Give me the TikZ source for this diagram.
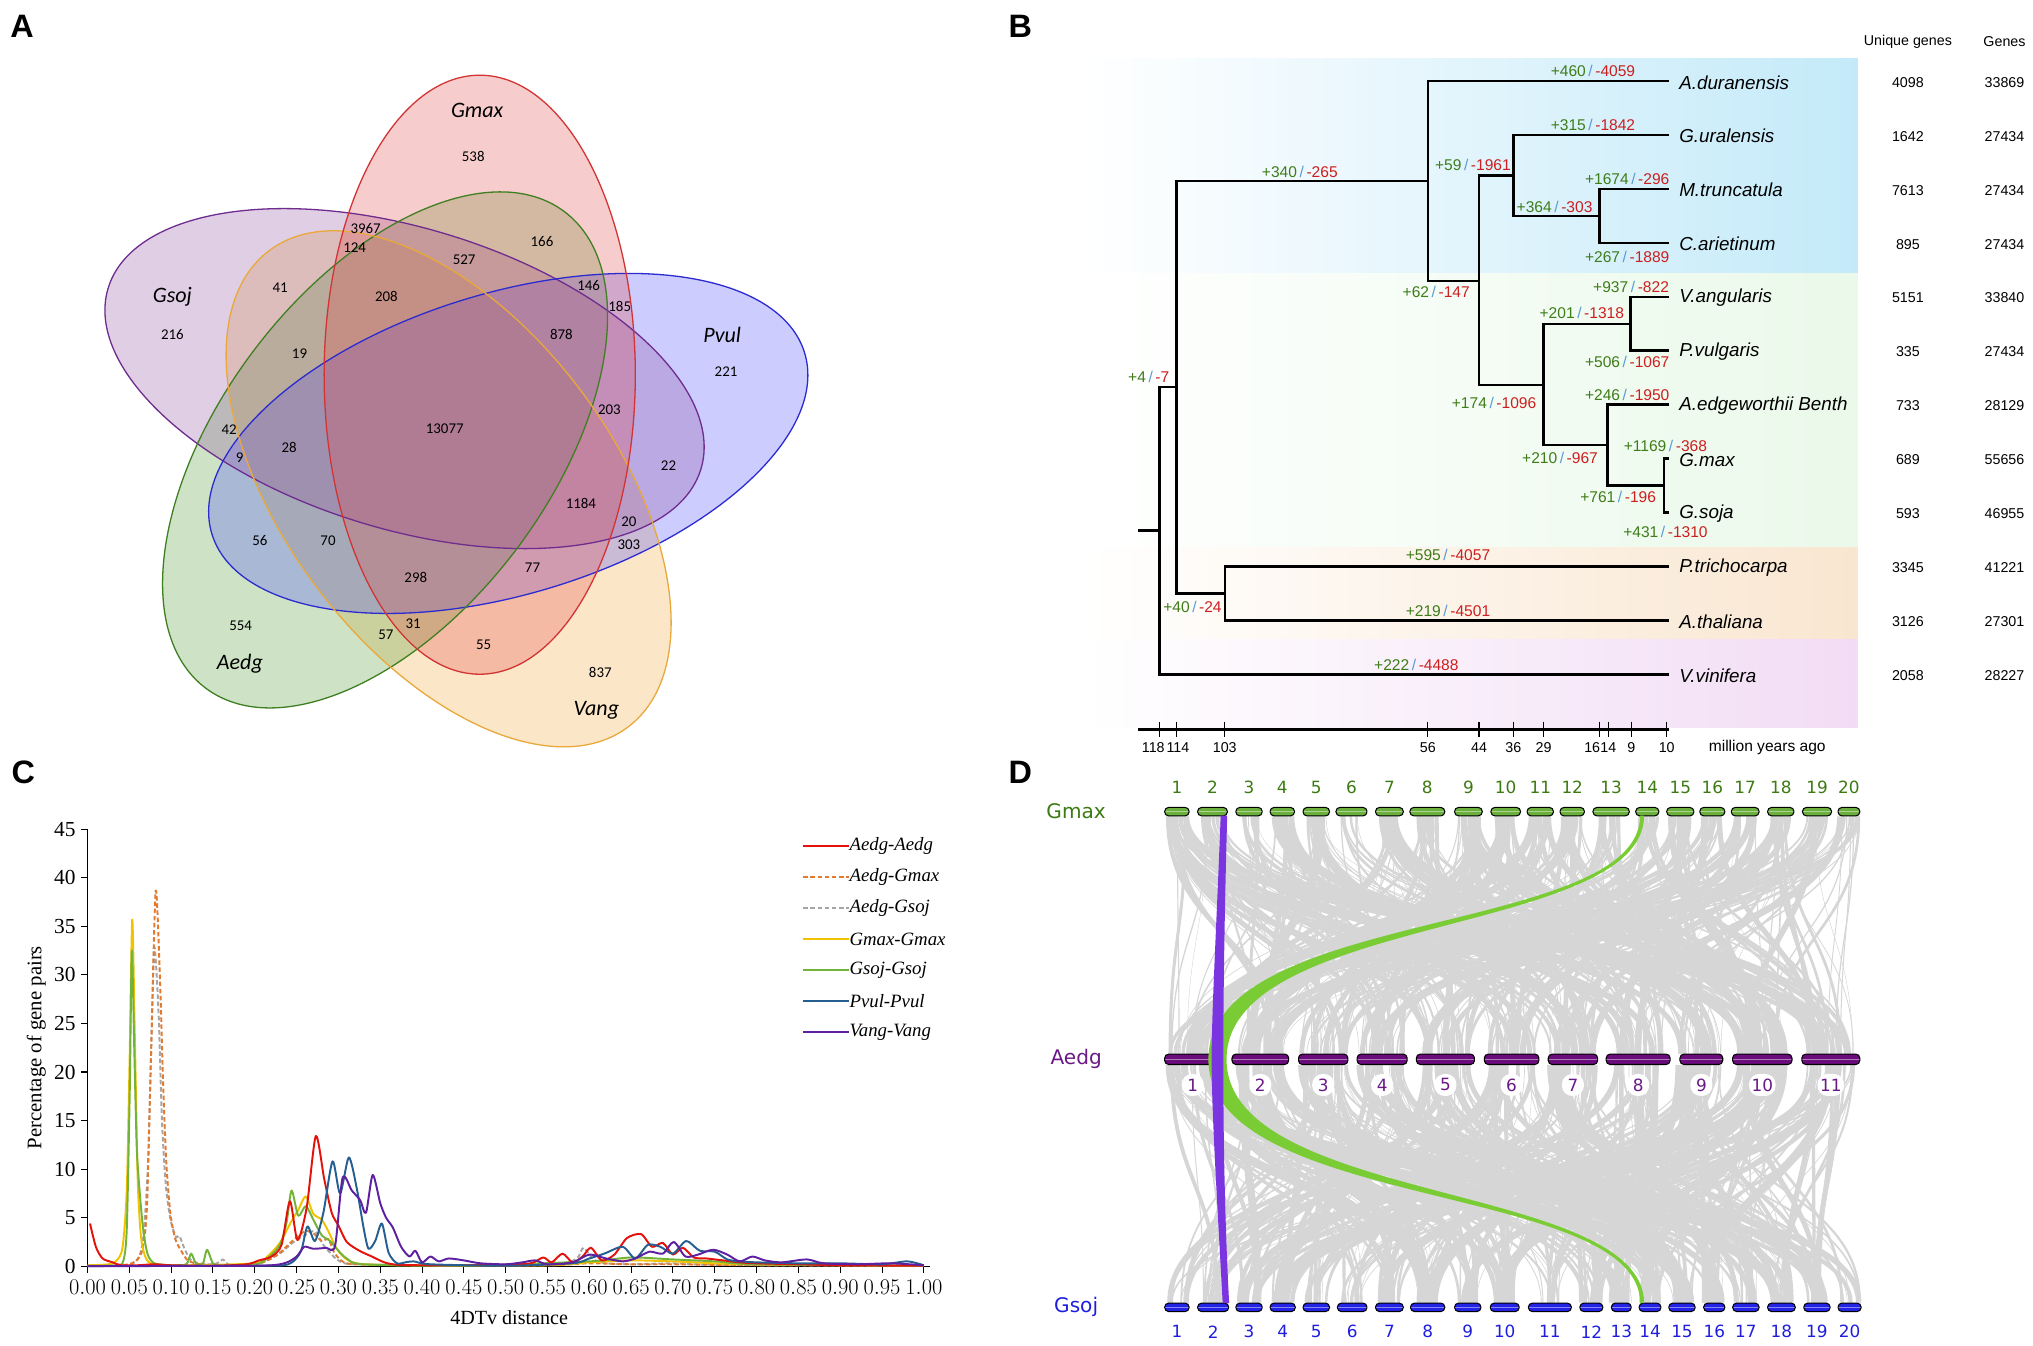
\documentclass[tikz,border=0pt]{standalone}
\usepackage{fontspec}
\setmainfont{Liberation Serif}
\newfontfamily\vennfont{Carlito}
\newfontfamily\treefont{Liberation Sans}
\newfontfamily\synfont{DejaVu Sans}
\usetikzlibrary{positioning,backgrounds}

% Venn colours
\definecolor{gmaxred}{HTML}{D23434}
\definecolor{aedggreen}{HTML}{3F7F22}
\definecolor{gsojpurple}{HTML}{6E2C8E}
\definecolor{pvulblue}{HTML}{2B2BD0}
\definecolor{vangorange}{HTML}{E9A83A}
\definecolor{gmaxfill}{HTML}{E04848}
\definecolor{aedgfill}{HTML}{4E9A30}
\definecolor{gsojfill}{HTML}{8E4E9E}
\definecolor{pvulfill}{HTML}{4848FF}
\definecolor{vangfill}{HTML}{F2A535}
% tree colours
\definecolor{gainc}{HTML}{3E7D1A}
\definecolor{lossc}{HTML}{CC1F1F}
\definecolor{slashc}{HTML}{5B9BD5}
\definecolor{bandblue}{HTML}{C4EAF9}
\definecolor{bandgreen}{HTML}{EAF9EA}
\definecolor{bandpeach}{HTML}{F9E6D0}
\definecolor{bandpink}{HTML}{F2DCF5}
% Ks plot colours
\definecolor{kred}{HTML}{E3120B}
\definecolor{korange}{HTML}{E47A2E}
\definecolor{kgray}{HTML}{A5A5A5}
\definecolor{kyellow}{HTML}{F2C100}
\definecolor{kgreen}{HTML}{72B33A}
\definecolor{kblue}{HTML}{255E91}
\definecolor{kpurple}{HTML}{5E1FA0}
% synteny colours
\definecolor{ribbon}{HTML}{D6D6D6}
\definecolor{synviolet}{HTML}{7A35E0}
\definecolor{syngreen}{HTML}{7ACC35}
\definecolor{chrgreen}{HTML}{6BAF3C}
\definecolor{chrpurple}{HTML}{6A0C7C}
\definecolor{chrblue}{HTML}{2424E6}
\definecolor{labgreen}{HTML}{3C7A12}
\definecolor{labpurple}{HTML}{6A1A86}
\definecolor{labblue}{HTML}{1E1EDC}

\newcommand{\gl}[2]{{\color{gainc}#1}{\color{slashc}\,/\,}{\color{lossc}#2}}

\tikzset{
  panel/.style={font=\treefont\bfseries\fontsize{25}{25}\selectfont, inner sep=0pt},
  vennline/.style={line width=1pt},
  vennfill/.style={fill opacity=0.28},
  vnum/.style={font=\vennfont\fontsize{11.5}{12}\selectfont, inner sep=0pt},
  vlab/.style={font=\vennfont\itshape\fontsize{17}{18}\selectfont, inner sep=0pt},
  branch/.style={line width=1.9pt},
  taxon/.style={font=\treefont\itshape\fontsize{14.5}{15}\selectfont, inner sep=0pt},
  gain/.style={font=\treefont\fontsize{12}{13}\selectfont, inner sep=0pt},
  genecount/.style={font=\treefont\fontsize{11}{12}\selectfont, inner sep=0pt},
  kcurve/.style={line width=1.5pt, line join=round},
  kdash/.style={kcurve, dash pattern=on 3.5pt off 2pt},
  ktick/.style={font=\fontsize{16.5}{17}\selectfont, inner sep=0pt},
  klegend/.style={font=\itshape\fontsize{14.5}{15}\selectfont, inner sep=0pt, anchor=west},
  chrom/.style={draw=black, line width=0.8pt, rounded corners=3pt, inner sep=0pt,
    path picture={\draw[white, opacity=0.45, line width=1.2pt]
      (path picture bounding box.west) -- (path picture bounding box.east);}},
  chrnum/.style={font=\synfont\fontsize{13}{14}\selectfont, inner sep=1pt},
  synlab/.style={font=\synfont\fontsize{15.5}{16}\selectfont, inner sep=0pt},
  ribbonline/.style={ribbon}
}

\begin{document}
\begin{tikzpicture}[x=1pt, y=-1pt]
    \useasboundingbox (0,0) rectangle (1568,1038.1);

    % Panel letters
    \node[panel] (labA) at (17,20) {A};
    \node[panel] (labB) at (787,20) {B};
    \node[panel] (labC) at (18,596) {C};
    \node[panel] (labD) at (787,596) {D};

    % ---------------- A: five-set Venn ----------------
    \fill[vennfill, vangfill, rotate around={-53:(346,377)}] (346,377) ellipse [x radius=230pt, y radius=127pt];
    \fill[vennfill, aedgfill, rotate around={53:(297,347)}] (297,347) ellipse [x radius=230pt, y radius=127pt];
    \fill[vennfill, pvulfill, rotate around={17:(392,342)}] (392,342) ellipse [x radius=239pt, y radius=116pt];
    \fill[vennfill, gsojfill, rotate around={-17:(312,292)}] (312,292) ellipse [x radius=239pt, y radius=116pt];
    \fill[vennfill, gmaxfill] (370,289) ellipse [x radius=120pt, y radius=231pt];
    \draw[vennline, gsojpurple, rotate around={-17:(312,292)}] (312,292) ellipse [x radius=239pt, y radius=116pt];
    \draw[vennline, pvulblue, rotate around={17:(392,342)}] (392,342) ellipse [x radius=239pt, y radius=116pt];
    \draw[vennline, aedggreen, rotate around={53:(297,347)}] (297,347) ellipse [x radius=230pt, y radius=127pt];
    \draw[vennline, vangorange, rotate around={-53:(346,377)}] (346,377) ellipse [x radius=230pt, y radius=127pt];
    \draw[vennline, gmaxred] (370,289) ellipse [x radius=120pt, y radius=231pt];

    \node[vlab] (vGmax) at (368,85) {Gmax};
    \node[vlab] (vGsoj) at (133,229) {Gsoj};
    \node[vlab] (vPvul) at (557,258) {Pvul};
    \node[vlab] (vAedg) at (185,512) {Aedg};
    \node[vlab] (vVang) at (460,548) {Vang};

    \foreach \vx/\vy/\vn in {365/121/538, 282/176/3967, 273.5/191/124, 418/186/166,
        358/200.5/527, 216/222/41, 298/229/208, 454/220/146, 478/236/185,
        133/258/216, 433/258/878, 231/272.5/19, 560/287/221, 470/316/203,
        176.7/331/42, 343/331/13077, 223/345/28, 184.8/353/9, 515.6/359/22,
        448/388/1184, 485/402/20, 200.5/417/56, 253/417/70, 485/420/303,
        410.7/438/77, 320.7/445.6/298, 318.7/480.8/31, 185.6/482.8/554,
        297.7/489.8/57, 373/497/55, 463/518.6/837}
      \node[vnum] (v\vn) at (\vx,\vy) {\vn};

    % ---------------- B: species tree ----------------
    \shade[left color=white, right color=bandblue] (837,45) rectangle (1433,211.3);
    \shade[left color=white, right color=bandgreen] (837,211.3) rectangle (1433,422);
    \shade[left color=white, right color=bandpeach] (837,422) rectangle (1433,493.6);
    \shade[left color=white, right color=bandpink] (837,493.6) rectangle (1433,561);

    \node[genecount] (hUniq) at (1471.5,32) {Unique genes};
    \node[genecount] (hGenes) at (1546,32) {Genes};

    \foreach \t/\name/\uniq/\tot [count=\k from 0] in {
        Adur/A.duranensis/4098/33869, Gura/G.uralensis/1642/27434,
        Mtru/M.truncatula/7613/27434, Cari/C.arietinum/895/27434,
        Vang/V.angularis/5151/33840, Pvul/P.vulgaris/335/27434,
        Aedg/A.edgeworthii Benth/733/28129, Gmax/G.max/689/55656,
        Gsoj/G.soja/593/46955, Ptri/P.trichocarpa/3345/41221,
        Atha/A.thaliana/3126/27301, Vvin/V.vinifera/2058/28227}{
      \coordinate (t\t) at (1287,{62.5+41.6*\k});
      \node[taxon, right=8pt of t\t, yshift=-1pt] (t\t-name) {\name};
      \node[genecount] (t\t-uniq) at (1471.5,{63.5+41.6*\k}) {\uniq};
      \node[genecount] (t\t-genes) at (1546,{63.5+41.6*\k}) {\tot};
    }

    % internal nodes
    \coordinate (r0)   at (878,409.3);
    \coordinate (n118) at (894.3,409.3);
    \coordinate (n114) at (907.5,298.6);
    \coordinate (n103) at (944.6,457.7);
    \coordinate (n56)  at (1101.2,139.4);
    \coordinate (n44)  at (1140.7,216.6);
    \coordinate (n36)  at (1167.2,135.5);
    \coordinate (n29)  at (1190.5,296.9);
    \coordinate (n16)  at (1233.7,166.5);
    \coordinate (n14)  at (1239.8,343.3);
    \coordinate (n9)   at (1257.5,249.7);
    \coordinate (n10)  at (1283.5,374.5);

    % branches
    \draw[branch] (r0) -- (n118);
    \draw[branch] (n118) |- (n114);
    \draw[branch] (n118) |- (tVvin);
    \draw[branch] (n114) |- (n56);
    \draw[branch] (n114) |- (n103);
    \draw[branch] (n103) |- (tPtri);
    \draw[branch] (n103) |- (tAtha);
    \draw[branch] (n56) |- (tAdur);
    \draw[branch] (n56) |- (n44);
    \draw[branch] (n44) |- (n36);
    \draw[branch] (n44) |- (n29);
    \draw[branch] (n36) |- (tGura);
    \draw[branch] (n36) |- (n16);
    \draw[branch] (n16) |- (tMtru);
    \draw[branch] (n16) |- (tCari);
    \draw[branch] (n29) |- (n9);
    \draw[branch] (n29) |- (n14);
    \draw[branch] (n9) |- (tVang);
    \draw[branch] (n9) |- (tPvul);
    \draw[branch] (n14) |- (tAedg);
    \draw[branch] (n14) |- (n10);
    \draw[branch] (n10) |- (tGmax);
    \draw[branch] (n10) |- (tGsoj);

    % gains / losses
    \node[gain] (gAdur) at (1228.6,54.8) {\gl{+460}{-4059}};
    \node[gain] (gGura) at (1228.6,96.4) {\gl{+315}{-1842}};
    \node[gain] (g56)   at (1002.5,132.4) {\gl{+340}{-265}};
    \node[gain] (g44)   at (1107.7,224.9) {\gl{+62}{-147}};
    \node[gain] (g36)   at (1136,127.3) {\gl{+59}{-1961}};
    \node[gain] (g16)   at (1199,159.4) {\gl{+364}{-303}};
    \node[gain] (gMtru) at (1255,138.3) {\gl{+1674}{-296}};
    \node[gain] (gCari) at (1255,198) {\gl{+267}{-1889}};
    \node[gain] (g29)   at (1152.3,311) {\gl{+174}{-1096}};
    \node[gain] (g9)    at (1220,241.6) {\gl{+201}{-1318}};
    \node[gain] (gVang) at (1258,221) {\gl{+937}{-822}};
    \node[gain] (gPvul) at (1255,279.4) {\gl{+506}{-1067}};
    \node[gain] (g14)   at (1203.2,353.5) {\gl{+210}{-967}};
    \node[gain] (gAedg) at (1255,304.6) {\gl{+246}{-1950}};
    \node[gain] (g10)   at (1248,383.6) {\gl{+761}{-196}};
    \node[gain] (gGmax) at (1284.5,343.7) {\gl{+1169}{-368}};
    \node[gain] (gGsoj) at (1284.5,410) {\gl{+431}{-1310}};
    \node[gain] (g114)  at (886,290.5) {\gl{+4}{-7}};
    \node[gain] (g103)  at (919.7,467.9) {\gl{+40}{-24}};
    \node[gain] (gPtri) at (1116.8,428) {\gl{+595}{-4057}};
    \node[gain] (gAtha) at (1116.8,471) {\gl{+219}{-4501}};
    \node[gain] (gVvin) at (1092.4,512.9) {\gl{+222}{-4488}};

    % time axis
    \draw[line width=2.2pt] (878,562.5) -- (1287,562.5);
    \foreach \xt/\lx/\lab in {894.3/889.5/118, 907.5/908.5/114, 944.6/944.6/103,
        1101.2/1101.2/56, 1140.7/1140.7/44, 1167.2/1167.2/36, 1190.5/1190.5/29,
        1233.7/1228/16, 1240.3/1240.5/14, 1258.1/1258.1/9, 1285.5/1285.5/10}{
      \draw[line width=0.8pt] (\xt,556.5) -- (\xt,568.5);
      \node[genecount] (ax\lab) at (\lx,576.4) {\lab};
    }
    \node[genecount, font=\treefont\fontsize{12}{12}\selectfont] (axunit) at (1363,576.4) {million years ago};

    % ---------------- C: 4DTv distribution ----------------
    \begin{scope}[shift={(67.5,976.6)}, x=645pt, y=7.49pt]
      \draw[line width=0.8pt] (0,0) -- (0,45);
      \draw[line width=0.8pt] (0,0) -- (1.008,0);
      \foreach \v in {0,5,...,45}{
        \draw[line width=0.8pt] (0,\v) -- ++(-5pt,0);
        \node[ktick, anchor=east, xshift=-9pt] (yt\v) at (0,\v) {\v};
      }
      \foreach \i in {0,...,20}{
        \pgfmathsetmacro\xv{\i*0.05}
        \draw[line width=0.8pt] (\xv,0) -- ++(0,-5pt);
        \node[ktick, yshift=-16.5pt] (xt\i) at (\xv,0) {\pgfmathprintnumber[fixed,fixed zerofill,precision=2]{\xv}};
      }
      % curves
      \draw[kdash, kgray] plot[smooth, tension=0.45] coordinates {(0.0,0.05) (0.045,0.1) (0.058,0.5) (0.066,2.5) (0.072,10) (0.077,25) (0.08,32.9) (0.085,26) (0.089,15) (0.094,8) (0.1,4.5) (0.106,3.0) (0.11,3.1) (0.116,1.8) (0.124,0.6) (0.14,0.2) (0.155,0.3) (0.162,0.7) (0.168,0.2) (0.19,0.1) (0.21,0.4) (0.23,1.3) (0.245,2.4) (0.26,3.2) (0.272,3.6) (0.282,2.2) (0.29,1.4) (0.30,0.6) (0.32,0.2) (0.45,0.1) (0.56,0.2) (0.585,0.8) (0.593,1.9) (0.605,0.7) (0.62,0.3) (0.65,0.2) (0.7,0.3) (0.75,0.15) (1.0,0.05)};
      \draw[kdash, korange] plot[smooth, tension=0.45] coordinates {(0.0,0.05) (0.04,0.1) (0.055,0.4) (0.065,1.5) (0.071,6) (0.076,22) (0.0815,38.6) (0.0865,30) (0.09,20) (0.094,11) (0.099,5.5) (0.105,2.8) (0.112,1.6) (0.12,0.6) (0.135,0.2) (0.17,0.05) (0.2,0.2) (0.215,0.6) (0.23,1.4) (0.245,2.6) (0.26,3.6) (0.27,3.4) (0.28,2.6) (0.288,2.8) (0.295,1.4) (0.305,0.5) (0.32,0.2) (0.4,0.1) (0.55,0.1) (0.6,0.3) (0.65,0.2) (0.7,0.2) (0.8,0.1) (1.0,0.05)};
      \draw[kcurve, kyellow] plot[smooth, tension=0.45] coordinates {(0.0,0.1) (0.025,0.2) (0.035,0.6) (0.042,2) (0.047,8) (0.0505,22) (0.0535,35.7) (0.0565,24) (0.06,9) (0.064,3) (0.07,0.8) (0.08,0.2) (0.12,0.1) (0.2,0.3) (0.215,1.0) (0.23,2.4) (0.243,4.5) (0.252,5.8) (0.261,7.2) (0.27,5.4) (0.28,4.8) (0.288,3.6) (0.298,1.8) (0.31,0.7) (0.33,0.2) (0.4,0.1) (0.55,0.1) (0.6,0.4) (0.65,0.6) (0.7,0.5) (0.75,0.3) (0.8,0.2) (1.0,0.05)};
      \draw[kcurve, kgreen] plot[smooth, tension=0.45] coordinates {(0.0,0.05) (0.035,0.1) (0.043,0.6) (0.047,4) (0.0505,18) (0.053,32.5) (0.056,22) (0.059,12) (0.063,7) (0.067,3.5) (0.072,1.2) (0.08,0.3) (0.1,0.1) (0.118,0.2) (0.124,1.3) (0.13,0.2) (0.138,0.3) (0.143,1.7) (0.15,0.3) (0.16,0.05) (0.2,0.2) (0.215,0.8) (0.23,2.2) (0.238,4.5) (0.244,7.8) (0.252,5.2) (0.261,6.2) (0.27,4.8) (0.28,3.2) (0.29,2.6) (0.3,1.6) (0.31,0.8) (0.33,0.2) (0.45,0.05) (0.6,0.5) (0.65,0.9) (0.7,0.7) (0.75,0.5) (0.8,0.2) (1.0,0.05)};
      \draw[kcurve, kred] plot[smooth, tension=0.45] coordinates {(0.003,4.4) (0.01,2.0) (0.018,0.8) (0.03,0.4) (0.04,0.1) (0.06,0.1) (0.08,0.2) (0.1,0.1) (0.15,0.05) (0.19,0.2) (0.205,0.6) (0.22,1.0) (0.232,2.2) (0.242,6.7) (0.251,2.7) (0.262,6.0) (0.273,13.4) (0.283,9.0) (0.292,5.5) (0.30,4.2) (0.31,2.5) (0.325,1.6) (0.34,1.0) (0.355,0.4) (0.37,0.15) (0.40,0.1) (0.45,0.1) (0.5,0.15) (0.53,0.3) (0.545,0.9) (0.555,0.4) (0.568,1.3) (0.58,0.4) (0.592,1.0) (0.602,1.9) (0.615,0.6) (0.63,1.2) (0.645,2.9) (0.662,3.3) (0.675,2.0) (0.688,2.4) (0.70,1.2) (0.712,1.9) (0.725,0.9) (0.74,0.8) (0.76,0.6) (0.78,0.4) (0.80,0.3) (0.85,0.2) (0.9,0.1) (1.0,0.05)};
      \draw[kcurve, kblue] plot[smooth, tension=0.45] coordinates {(0.0,0.02) (0.2,0.05) (0.24,0.2) (0.255,1.5) (0.263,4.1) (0.272,2.6) (0.282,5.5) (0.293,10.8) (0.302,7.5) (0.3125,11.2) (0.322,8.0) (0.33,4.0) (0.336,1.8) (0.344,2.6) (0.352,4.4) (0.36,1.4) (0.37,0.3) (0.38,0.4) (0.39,0.5) (0.41,0.2) (0.5,0.05) (0.58,0.3) (0.6,0.8) (0.618,1.3) (0.64,2.0) (0.655,0.8) (0.67,2.2) (0.685,2.0) (0.70,1.3) (0.716,2.6) (0.732,1.6) (0.75,1.5) (0.765,0.7) (0.78,0.5) (0.8,0.4) (0.85,0.3) (0.9,0.3) (0.95,0.2) (0.98,0.5) (1.0,0.1)};
      \draw[kcurve, kpurple] plot[smooth, tension=0.45] coordinates {(0.0,0.02) (0.2,0.05) (0.235,0.3) (0.25,1.0) (0.259,2.0) (0.27,1.8) (0.285,1.9) (0.296,2.1) (0.305,9.1) (0.316,7.8) (0.326,6.8) (0.333,5.5) (0.341,9.4) (0.35,6.5) (0.357,5.0) (0.365,4.0) (0.375,2.0) (0.385,1.0) (0.392,1.6) (0.4,0.4) (0.41,1.0) (0.42,0.5) (0.432,0.8) (0.45,0.6) (0.47,0.3) (0.5,0.2) (0.52,0.4) (0.535,0.6) (0.55,0.2) (0.58,0.4) (0.6,1.2) (0.62,0.8) (0.64,0.5) (0.655,0.8) (0.672,1.5) (0.688,1.3) (0.701,2.5) (0.715,1.0) (0.73,1.2) (0.748,1.7) (0.765,1.2) (0.78,0.5) (0.795,1.0) (0.81,0.6) (0.83,0.4) (0.86,0.7) (0.88,0.3) (0.92,0.2) (0.96,0.3) (1.0,0.1)};
    \end{scope}
    \node[ktick, font=\fontsize{16}{16}\selectfont, rotate=90] (ylabel) at (28,808) {Percentage of gene pairs};
    \node[ktick, font=\fontsize{15.5}{16}\selectfont] (xlabel) at (392.7,1015.9) {4DTv distance};

    % legend
    \foreach \c/\s/\txt [count=\j from 0] in {kred/kcurve/Aedg-Aedg, korange/kdash/Aedg-Gmax,
        kgray/kdash/Aedg-Gsoj, kyellow/kcurve/Gmax-Gmax, kgreen/kcurve/Gsoj-Gsoj,
        kblue/kcurve/Pvul-Pvul, kpurple/kcurve/Vang-Vang}{
      \coordinate (leg\j) at (619.6,{652.6+23.9*\j});
      \node[klegend] (leg\j-txt) at (655,{652.6+23.9*\j}) {\txt};
      \draw[\s, \c, line width=2pt] (leg\j) -- (leg\j-txt.west);
    }

    % ---------------- D: synteny ----------------
    % chromosomes
    \foreach \a/\b [count=\i] in {898.3/917.1, 923.7/946.6, 953.2/973.5, 979.6/998.4,
        1005.0/1025.4, 1030.4/1054.3, 1060.9/1082.3, 1087.4/1114.3, 1121.9/1143.2,
        1149.9/1172.7, 1177.8/1198.1, 1203.2/1222.0, 1228.6/1256.6, 1261.6/1279.4,
        1285.5/1306.4, 1311.0/1330.3, 1335.3/1356.7, 1363.3/1383.6, 1390.2/1412.6,
        1417.6/1434.4}{
      \pgfmathsetmacro\w{\b-\a}
      \node[chrom, fill=chrgreen, minimum width=\w pt, minimum height=6.5pt] (g\i) at ({(\a+\b)/2},626) {};
      \node[chrnum, labgreen] (g\i-num) at ({(\a+\b)/2},607) {\i};
    }
    \foreach \a/\b [count=\i] in {898.3/941.5, 950.2/993.9, 1001.5/1039.6, 1046.7/1085.3,
        1092.4/1137.2, 1144.8/1186.9, 1194.1/1232.2, 1238.8/1288.1, 1295.7/1328.7,
        1336.3/1382.1, 1389.7/1434.4}{
      \pgfmathsetmacro\w{\b-\a}
      \node[chrom, fill=chrpurple, minimum width=\w pt, minimum height=8pt] (a\i) at ({(\a+\b)/2},817) {};
      \node[chrnum, labpurple, fill=white, rounded corners=8pt, inner sep=2pt,
            minimum width=17pt, minimum height=17pt] (a\i-num) at ({(\a+\b)/2},836.8) {\i};
    }
    \foreach \a/\b [count=\i] in {898.3/917.1, 923.7/947.6, 953.2/973.5, 979.6/999.0,
        1005.0/1025.4, 1031.5/1054.3, 1060.9/1082.3, 1087.9/1114.3, 1121.9/1142.2,
        1149.4/1171.7, 1178.8/1211.9, 1218.5/1236.2, 1242.8/1258.1, 1264.2/1281.0,
        1287.1/1307.4, 1314.0/1330.3, 1336.4/1356.7, 1363.3/1384.6, 1391.2/1411.5,
        1417.6/1435.4}{
      \pgfmathsetmacro\w{\b-\a}
      \node[chrom, fill=chrblue, minimum width=\w pt, minimum height=6.5pt] (s\i) at ({(\a+\b)/2},1008.3) {};
      \node[chrnum, labblue] (s\i-num) at ({(\a+\b)/2},1027.2) {\i};
    }

    % grey collinear blocks, behind the chromosomes
    \pgfmathsetseed{2024}
    \begin{pgfonlayer}{background}
      \foreach \r in {1,...,380}{
        \pgfmathrandominteger{\ga}{1}{20}
        \pgfmathrandominteger{\gb}{1}{11}
        \pgfmathsetmacro\oa{16*rnd-8}
        \pgfmathsetmacro\ob{36*rnd-18}
        \pgfmathsetmacro\wd{0.3+6.5*rnd*rnd}
        \draw[ribbonline, line width=\wd pt] ([xshift=\oa pt]g\ga.south)
          .. controls +(0,92) and +(0,-92) .. ([xshift=\ob pt]a\gb.north);
      }
      \foreach \r in {1,...,380}{
        \pgfmathrandominteger{\ga}{1}{11}
        \pgfmathrandominteger{\gb}{1}{20}
        \pgfmathsetmacro\oa{36*rnd-18}
        \pgfmathsetmacro\ob{16*rnd-8}
        \pgfmathsetmacro\wd{0.3+6.5*rnd*rnd}
        \draw[ribbonline, line width=\wd pt] ([xshift=\oa pt]a\ga.south)
          .. controls +(0,92) and +(0,-92) .. ([xshift=\ob pt]s\gb.north);
      }
    \end{pgfonlayer}

    % highlighted blocks
    \fill[syngreen] (1265,629) .. controls (1265,722) and (932,700) .. (932,817)
                    .. controls (932,934) and (1265,912) .. (1265,1005)
                    -- (1268,1005) .. controls (1268,912) and (946,929) .. (946,817)
                    .. controls (946,705) and (1268,722) .. (1268,629) -- cycle;
    \coordinate (pTopL) at (941.5,629);
    \coordinate (pTopR) at (946.5,629);
    \coordinate (pBotL) at (943,1005);
    \coordinate (pBotR) at (948,1005);
    \fill[synviolet] (pTopL) .. controls (938,720) and (934.5,780) .. (934.5,817)
                    .. controls (934.5,860) and (939,930) .. (pBotL)
                    -- (pBotR) .. controls (944,930) and (943.5,860) .. (943.5,817)
                    .. controls (943.5,780) and (944,720) .. (pTopR) -- cycle;

    \node[synlab, labgreen] (dGmax) at (830,626) {Gmax};
    \node[synlab, labpurple] (dAedg) at (830,817) {Aedg};
    \node[synlab, labblue] (dGsoj) at (830,1008) {Gsoj};

\end{tikzpicture}
\end{document}
